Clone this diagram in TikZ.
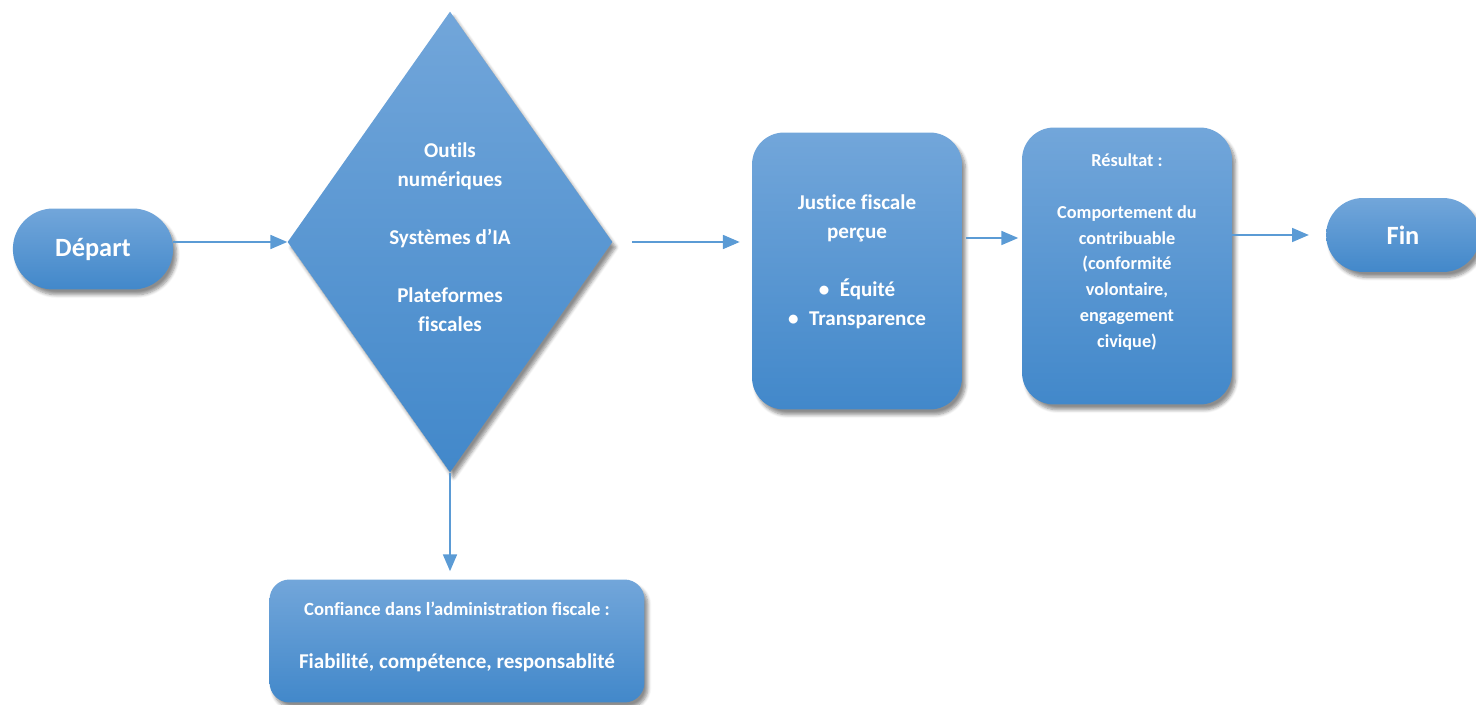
\documentclass[tikz,border=0pt]{standalone}
\usepackage{fontspec}
\setmainfont{Carlito}[Ligatures={NoCommon,NoContextual}]
\usepackage{tikz}
\usetikzlibrary{calc,positioning,shapes.geometric,shapes.misc,shadows.blur}
\usetikzlibrary{arrows.meta}

\definecolor{boxtop}{RGB}{114,166,218}
\definecolor{boxbottom}{RGB}{66,136,202}
\definecolor{linkblue}{RGB}{91,155,213}

\begin{document}
\begin{tikzpicture}[x=0.02cm,y=-0.02cm,
      bluefill/.style={
         draw=none,
         top color=boxtop,
         bottom color=boxbottom,
         blur shadow={shadow xshift=2pt,shadow yshift=-3pt,shadow blur steps=6,shadow opacity=45},
         text=white,
         font=\bfseries},
      startend/.style={
         bluefill,
         rounded rectangle,
         minimum width=3.44cm,
         minimum height=1.62cm,
         font=\fontsize{15}{18}\selectfont\bfseries},
      decision/.style={
         bluefill,
         diamond,
         aspect=0.7,
         inner sep=0pt,
         minimum width=6.5cm,
         minimum height=9.22cm},
      process/.style={
         bluefill,
         rectangle,
         rounded corners=0.64cm,
         minimum width=4.2cm,
         minimum height=5.54cm},
      boxtext/.style={
         text=white,
         align=center,
         inner sep=0pt},
      myarrow/.style={-{Triangle[length=9.5pt,width=8pt]},draw=linkblue,line width=0.7pt}
      ]
      \useasboundingbox (0,0) rectangle (1476,705);

      \node[startend] (dep) at (93,249) {Départ};
      \node[decision] (outils) at (450,242) {};
      \node[process] (jus) at (857,271) {};
      \node[process] (res) at (1127,266) {};
      \node[startend,minimum width=3.31cm,minimum height=1.48cm] (fin) at (1403,235) {Fin};
      \node[bluefill,rectangle,rounded corners=0.4cm,
            minimum width=7.5cm,minimum height=2.46cm] (conf) at (457,641) {};

      % texts inside the shapes
      \node[boxtext,font=\fontsize{12}{16.5}\selectfont\bfseries] (outilstxt) at ([yshift=0.1cm]outils.center)
         {Outils\\numériques\\[16.5pt]Systèmes d’IA\\[16.5pt]Plateformes\\fiscales};
      \node[boxtext,font=\fontsize{12}{16.5}\selectfont\bfseries] (justxt) at ($(jus.center)+(0,-9)$)
         {Justice fiscale\\perçue\\[16.5pt]\textbullet\hspace{6pt}Équité\\\textbullet\hspace{6pt}Transparence};
      \node[boxtext,font=\fontsize{10.4}{14.7}\selectfont\bfseries] (restxt) at ($(res.center)+(0,-14)$)
         {Résultat :\\[14.7pt]Comportement du\\contribuable\\(conformité\\volontaire,\\engagement\\civique)};
      \node[boxtext,font=\fontsize{12}{14}\selectfont\bfseries] (conftxt) at ($(conf.center)+(0,-4)$)
         {{\fontsize{10.6}{14}\selectfont Confiance dans l’administration fiscale :}\\[16pt]Fiabilité, compétence, responsablité};

      % connectors
      \draw [myarrow] (dep.east |- outils.west) -- (outils.west);
      \draw [myarrow,shorten <=0.38cm,shorten >=0.24cm] (outils.east) -- (outils.east -| jus.west);
      \draw [myarrow,shorten <=2pt,shorten >=2pt] ($(jus.east)+(0,-33)$) -- ($(res.west)+(0,-28)$);
      \draw [myarrow,shorten >=0.34cm] (res.east |- fin.west) -- (fin.west);
      \draw [myarrow,shorten >=0.16cm] (outils.south) -- (outils.south |- conf.north);
    \end{tikzpicture}
\end{document}
